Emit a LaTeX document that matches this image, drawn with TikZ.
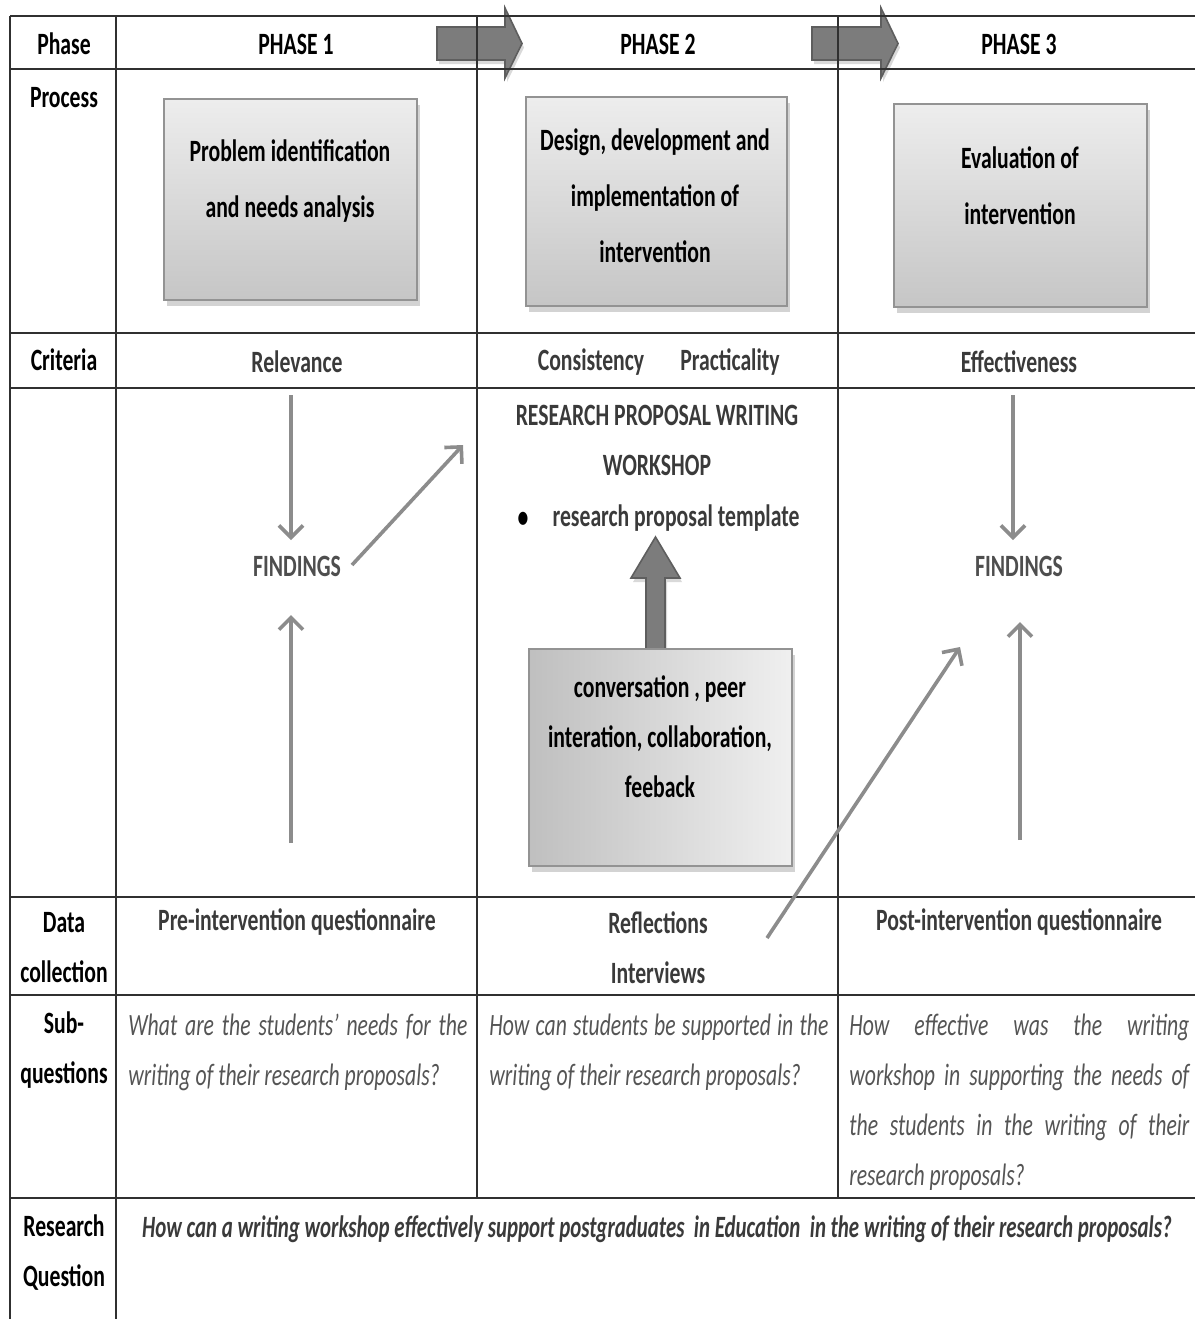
\documentclass[tikz,border=0pt]{standalone}
\usepackage{fontspec}
\setmainfont{Carlito}[FakeStretch=0.70]
\newfontfamily\rqfont{Carlito}[FakeStretch=0.674]
\usetikzlibrary{shadows,arrows.meta}
\definecolor{gridline}{HTML}{303030}
\definecolor{arrowgrey}{HTML}{8C8C8C}
\definecolor{blockfill}{HTML}{7C7C7C}
\definecolor{blockedge}{HTML}{5E5E5E}
\definecolor{darktext}{HTML}{3A3A3A}
\definecolor{qtext}{HTML}{555555}
\tikzset{
  hd/.style={font=\bfseries\fontsize{15.5}{25}\selectfont, align=center, inner sep=0pt, text=black},
  boxtext/.style={font=\bfseries\fontsize{15.5}{28}\selectfont, align=center, inner sep=0pt, text=black},
  soft/.style={font=\bfseries\fontsize{15.5}{25}\selectfont, align=center, inner sep=0pt, text=darktext},
  subq/.style={font=\itshape\fontsize{15.5}{25}\selectfont, align=justify, inner sep=0pt, text=qtext, anchor=north west},
  procbox/.style={draw=gray!85, line width=0.75pt, top color=gray!14, bottom color=gray!45,
     drop shadow={shadow xshift=1.5pt, shadow yshift=-3pt, opacity=0.35}},
  thinarrow/.style={draw=arrowgrey, line width=1.8pt, -{Straight Barb[length=6pt,width=12pt]}},
  hline/.style={draw=gridline, line width=1.4pt},
  vline/.style={draw=gridline, line width=0.8pt},
  blockarrow/.style={fill=blockfill, draw=blockedge, line width=0.8pt,
     drop shadow={shadow xshift=1pt, shadow yshift=-2pt, opacity=0.3}}
}
\begin{document}
\begin{tikzpicture}[x=0.5pt,y=-0.5pt]
\useasboundingbox (0,0) rectangle (1195,1319);

% header block arrows
\path[blockarrow] (437,27) -- (505,27) -- (505,8) -- (522,43.5) -- (505,78) -- (505,60) -- (437,60) -- cycle;
\path[blockarrow] (812,27) -- (881,27) -- (881,8) -- (898,43.5) -- (881,78) -- (881,60) -- (812,60) -- cycle;

% table lines
\foreach \yy in {16,69,333,388,897,995,1198} \draw[hline] (10,\yy) -- (1195,\yy);
\draw[vline] (10,16) -- (10,1319);
\draw[vline] (116,16) -- (116,1319);
\draw[vline] (477,16) -- (477,1198);
\draw[vline] (838,16) -- (838,1198);

% header row
\node[hd] (phase) at (64,44) {Phase};
\node[hd] (p1) at (296,44) {PHASE 1};
\node[hd] (p2) at (658,44) {PHASE 2};
\node[hd] (p3) at (1019,44) {PHASE 3};

% process row
\node[hd] (process) at (64,98) {Process};
\node[procbox, minimum width=126.5pt, minimum height=100.5pt] (box1) at (290.5,199.5) {};
\node[boxtext] (box1t) at (290,181) {Problem identification\\and needs analysis};
\node[procbox, minimum width=130.5pt, minimum height=104.5pt] (box2) at (656.5,201.5) {};
\node[boxtext] (box2t) at (655,196) {Design, development and\\implementation of\\intervention};
\node[procbox, minimum width=126.5pt, minimum height=101.5pt] (box3) at (1020.5,205.5) {};
\node[boxtext] (box3t) at (1020,185.5) {Evaluation of\\intervention};

% criteria row
\node[hd] (criteria) at (64,360) {Criteria};
\node[soft] (relev) at (297,362) {Relevance};
\node[soft] (consist) at (591,362) {Consistency};
\node[soft] (pract) at (730,362) {Practicality};
\node[soft] (effect) at (1019,362) {Effectiveness};

% findings area
\node[soft, text=darktext!90] (find1) at (297,566) {FINDINGS};
\node[soft, text=darktext!90] (find3) at (1019,566) {FINDINGS};
\coordinate (a1s) at (291,395); \coordinate (a1e) at (291,540);
\coordinate (a2s) at (291,843); \coordinate (a2e) at (291,615);
\coordinate (a3s) at (352,565); \coordinate (a3e) at (463,445);
\coordinate (a4s) at (1013,395); \coordinate (a4e) at (1013,540);
\coordinate (a5s) at (1020,840); \coordinate (a5e) at (1020,622);
\coordinate (a6s) at (767,938); \coordinate (a6e) at (960,647);
\draw[thinarrow] (a1s) -- (a1e);
\draw[thinarrow] (a2s) -- (a2e);
\draw[thinarrow] (a3s) -- (a3e);
\draw[thinarrow] (a4s) -- (a4e);
\draw[thinarrow] (a5s) -- (a5e);

\node[soft] (workshop) at (657,440.5) {RESEARCH PROPOSAL WRITING\\WORKSHOP};
\node[hd, text=black] (bullet) at (523,520) {\textbullet};
\node[soft] (template) at (676,518) {research proposal template};

% vertical block arrow
\path[blockarrow] (646,650) -- (646,578) -- (631,578) -- (655.5,537) -- (680,578) -- (665,578) -- (665,650) -- cycle;
\node[draw=gray!85, line width=0.75pt, left color=gray!50, right color=gray!12,
  drop shadow={shadow xshift=1.5pt, shadow yshift=-3pt, opacity=0.35},
  minimum width=131.5pt, minimum height=108.5pt] (box4) at (660.5,757.5) {};
\node[hd] (box4t) at (660,737) {conversation , peer\\interation, collaboration,\\feeback};

% data collection row
\node[hd] (datacoll) at (64,948) {Data\\collection};
\node[soft] (pre) at (297,922) {Pre-intervention questionnaire};
\node[soft] (refl) at (658,947.5) {Reflections\\Interviews};
\node[soft] (post) at (1019,922) {Post-intervention questionnaire};

\draw[thinarrow] (a6s) -- (a6e);

% sub-questions row
\node[hd] (subq) at (64,1050.5) {Sub-\\questions};
\node[subq, text width=169.5pt] (sq1) at (128,1014) {What are the students' needs for the\linebreak writing of their research proposals?};
\node[subq, text width=169.5pt] (sq2) at (489,1014) {How can students be supported in the\linebreak writing of their research proposals?};
\node[subq, text width=170pt] (sq3) at (849,1014) {How effective was the writing\linebreak workshop in supporting the needs of\linebreak the students in the writing of their\linebreak research proposals?};

% research question row
\node[hd] (rqlab) at (64,1253) {Research\\Question};
\node[soft, font=\rqfont\bfseries\itshape\fontsize{15.5}{25}\selectfont] (rq) at (657,1229) {How can a writing workshop effectively support postgraduates \ in Education \ in the writing of their research proposals?};
\end{tikzpicture}
\end{document}
